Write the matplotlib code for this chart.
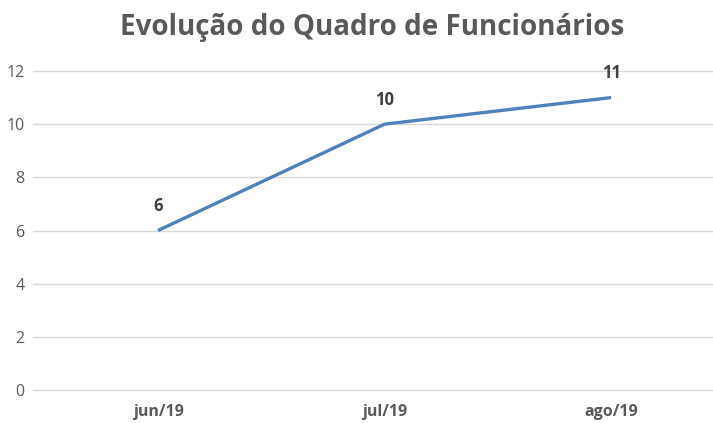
import matplotlib
matplotlib.use("Agg")
import matplotlib.pyplot as plt

categories = ["jun/19", "jul/19", "ago/19"]
values = [6, 10, 11]
yticks = [0, 2, 4, 6, 8, 10, 12]

W, H = 713, 423
fig = plt.figure(figsize=(W/100, H/100), dpi=100)
left, right, top, bottom = 33, 713, 71, 390
ax = fig.add_axes([left/W, 1-bottom/H, (right-left)/W, (bottom-top)/H])

x = list(range(len(categories)))
ax.plot(x, values, color="#4F81BD", lw=2.4, solid_capstyle="butt")
for xi, v in zip(x, values):
    ax.annotate(str(v), (xi, v), xytext=(0, 11), textcoords="offset points",
                ha="center", va="bottom", fontsize=12, fontweight="bold",
                color="#404040", family="Open Sans")

ax.set_xlim(-0.552, 2.45)
ax.set_ylim(0, 12)
ax.set_yticks(yticks)
ax.set_xticks(x)
ax.set_xticklabels(categories, fontweight="bold")
ax.grid(axis="y", color="#D9D9D9", lw=1)
for gl in ax.get_ygridlines():
    gl.set_clip_on(False)
ax.set_axisbelow(True)
for s in ax.spines.values():
    s.set_visible(False)
ax.tick_params(axis="both", length=0, colors="#595959", labelsize=11.5)
ax.tick_params(axis="x", pad=10)
ax.tick_params(axis="y", pad=6)
for lab in ax.get_xticklabels() + ax.get_yticklabels():
    lab.set_family("Open Sans")

fig.text(372/W, 1-27/H, "Evolução do Quadro de Funcionários", ha="center", va="center",
         fontsize=20, fontweight="bold", color="#595959", family="Open Sans")

fig.savefig("out.png", dpi=100)
